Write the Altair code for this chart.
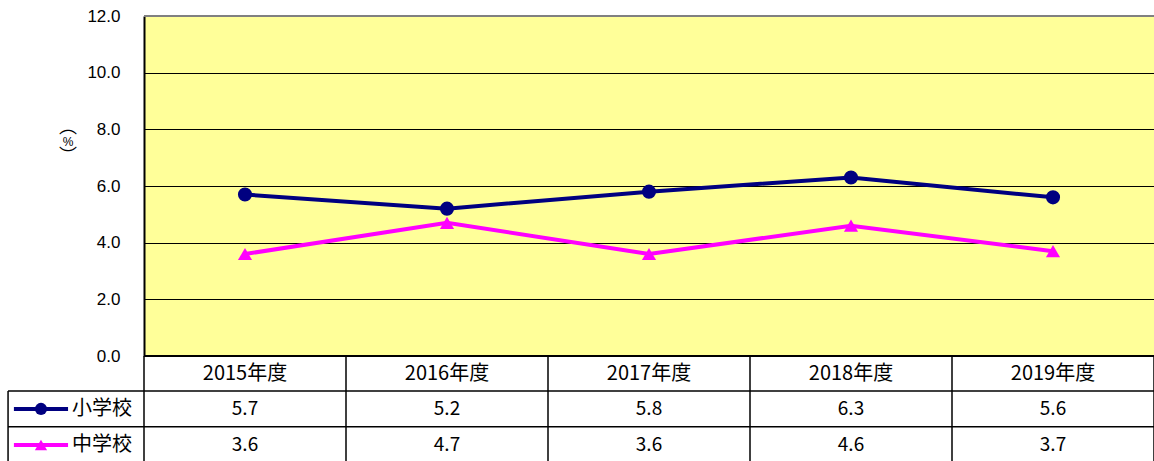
import altair as alt
import pandas as pd

# ---- data ----
years = ["2015年度", "2016年度", "2017年度", "2018年度", "2019年度"]
series_names = ["小学校", "中学校"]
elementary = [5.7, 5.2, 5.8, 6.3, 5.6]
junior_high = [3.6, 4.7, 3.6, 4.6, 3.7]
y_ticks = [0, 2, 4, 6, 8, 10, 12]
y_title_parens = ["︵", "︶"]
y_title_unit = ["%"]

# ---- layout constants (table rows in y-scale units below 0) ----
ROW_HEADER_Y = -0.64
ROW_Y = [-1.87, -3.14]
ROW_LINES = [-1.235, -2.5]
TABLE_BOTTOM = -3.9
LEG_LEFT = -0.673
TITLE_X = -0.376
PAREN_Y = [8.05, 7.02]
UNIT_Y = [7.55]
COLORS = ["#000080", "#FF00FF"]
SHAPES = ["circle", "triangle-up"]

FONT_JP = "Noto Sans CJK JP"

xpos = [i + 0.5 for i in range(len(years))]

rows = []
for name, vals in zip(series_names, [elementary, junior_high]):
    for x, yr, v in zip(xpos, years, vals):
        rows.append({"series": name, "year": yr, "x": x, "value": v})
df = pd.DataFrame(rows)

xs = alt.Scale(domain=[0, 5], nice=False, zero=False)
ys = alt.Scale(domain=[0, 12], nice=False)

color_scale = alt.Scale(domain=series_names, range=COLORS)
shape_scale = alt.Scale(domain=series_names, range=SHAPES)

Y_AXIS = alt.Axis(
    values=y_ticks,
    format=".1f",
    grid=True,
    gridColor="black",
    gridWidth=1,
    ticks=False,
    domain=True,
    domainColor="black",
    domainWidth=2,
    labelFont="Liberation Sans",
    labelFontSize=17,
    labelColor="black",
    labelPadding=24,
    title="",
)


def X(field):
    return alt.X(field, scale=xs, axis=None)


def Y(field):
    return alt.Y(field, scale=ys, axis=Y_AXIS)


base = alt.Chart(df)

lines = base.mark_line(strokeWidth=4, clip=False).encode(
    x=X("x:Q"),
    y=Y("value:Q"),
    color=alt.Color("series:N", scale=color_scale, legend=None),
    detail="series:N",
)

points = base.mark_point(filled=True, opacity=1, size=200, clip=False).encode(
    x=X("x:Q"),
    y=Y("value:Q"),
    color=alt.Color("series:N", scale=color_scale, legend=None),
    shape=alt.Shape("series:N", scale=shape_scale, legend=None),
)

# y-axis unit title, written vertically: vertical-form parentheses around an upright %
paren_df = pd.DataFrame({"x": [TITLE_X] * 2, "y": PAREN_Y, "t": y_title_parens})
parens = alt.Chart(paren_df).mark_text(
    font=FONT_JP, fontSize=18, color="black", baseline="middle", align="center"
).encode(x=X("x:Q"), y=Y("y:Q"), text="t:N")
unit_df = pd.DataFrame({"x": [TITLE_X], "y": UNIT_Y, "t": y_title_unit})
unit = alt.Chart(unit_df).mark_text(
    font="Liberation Sans", fontSize=12, color="black", baseline="middle", align="center"
).encode(x=X("x:Q"), y=Y("y:Q"), text="t:N")

# plot frame: gray top and black bottom
frame_df = pd.DataFrame({"x": [0, 0], "x2": [5, 5], "y": [max(y_ticks), 0], "c": ["#808080", "black"]})
frame = alt.Chart(frame_df).mark_rule(strokeWidth=2, clip=False).encode(
    x=X("x:Q"), x2="x2:Q", y=Y("y:Q"),
    stroke=alt.Stroke("c:N", scale=None),
)

# ---- data table ----
hdr_df = pd.DataFrame({"x": xpos, "year": years, "y": [ROW_HEADER_Y] * len(years)})
header = alt.Chart(hdr_df).mark_text(font=FONT_JP, fontSize=20, color="black").encode(
    x=X("x:Q"), y=Y("y:Q"), text="year:N"
)

cell_rows = []
for ri, vals in enumerate([elementary, junior_high]):
    for x, v in zip(xpos, vals):
        cell_rows.append({"x": x, "y": ROW_Y[ri], "label": f"{v:.1f}"})
cells = alt.Chart(pd.DataFrame(cell_rows)).mark_text(font=FONT_JP, fontSize=19, color="black").encode(
    x=X("x:Q"), y=Y("y:Q"), text="label:N"
)

# grid lines of the table
vlines_df = pd.DataFrame({"x": list(range(0, 6)), "y": [0] * 6, "y2": [TABLE_BOTTOM] * 6})
vlines = alt.Chart(vlines_df).mark_rule(color="black", strokeWidth=1.5, clip=False).encode(
    x=X("x:Q"), y=Y("y:Q"), y2="y2:Q"
)
leg_vline_df = pd.DataFrame({"x": [LEG_LEFT], "y": [ROW_LINES[0]], "y2": [TABLE_BOTTOM]})
leg_vline = alt.Chart(leg_vline_df).mark_rule(color="black", strokeWidth=1.5, clip=False).encode(
    x=X("x:Q"), y=Y("y:Q"), y2="y2:Q"
)
hlines_df = pd.DataFrame({"x": [LEG_LEFT] * 2, "x2": [5] * 2, "y": ROW_LINES})
hlines = alt.Chart(hlines_df).mark_rule(color="black", strokeWidth=1.5, clip=False).encode(
    x=X("x:Q"), x2="x2:Q", y=Y("y:Q")
)

# legend keys inside the table
leg_df = pd.DataFrame({
    "series": series_names,
    "x": [-0.644, -0.644], "x2": [-0.376, -0.376], "xm": [-0.51, -0.51],
    "xt": [-0.356, -0.356], "y": ROW_Y,
})
leg_lines = alt.Chart(leg_df).mark_rule(strokeWidth=4, clip=False).encode(
    x=X("x:Q"), x2="x2:Q", y=Y("y:Q"),
    color=alt.Color("series:N", scale=color_scale, legend=None),
)
leg_pts = alt.Chart(leg_df).mark_point(filled=True, opacity=1, size=150, clip=False).encode(
    x=X("xm:Q"), y=Y("y:Q"),
    color=alt.Color("series:N", scale=color_scale, legend=None),
    shape=alt.Shape("series:N", scale=shape_scale, legend=None),
)
leg_text = alt.Chart(leg_df).mark_text(font=FONT_JP, fontSize=20, color="black", align="left").encode(
    x=X("xt:Q"), y=Y("y:Q"), text="series:N"
)

chart = alt.layer(
    lines, vlines, leg_vline, hlines, frame, parens, unit, header, cells,
    leg_lines, leg_pts, leg_text, points
).properties(
    width=1010,
    height=340,
    autosize=alt.AutoSizeParams(type="none"),
    padding={"left": 144, "top": 16, "right": 0, "bottom": 106},
    background="white",
).configure_view(
    fill="#FFFF99", strokeWidth=0
)

chart.save("out.html", embed_options={"renderer": "svg", "actions": False})
